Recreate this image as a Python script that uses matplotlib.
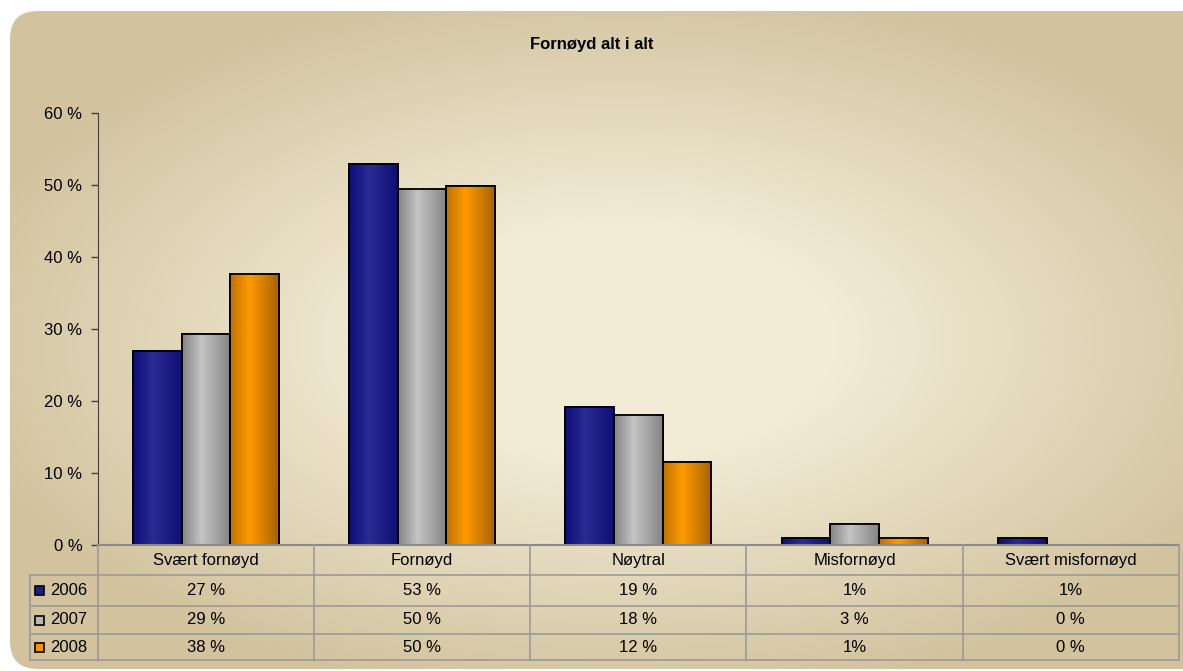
import numpy as np
import matplotlib.pyplot as plt
from matplotlib.colors import LinearSegmentedColormap
from matplotlib.patches import FancyBboxPatch, Rectangle

plt.rcParams["font.family"] = ["Liberation Sans", "DejaVu Sans"]

# Data
categories = ["Svært fornøyd", "Fornøyd", "Nøytral", "Misfornøyd", "Svært misfornøyd"]
years = ["2006", "2007", "2008"]
values_2006 = [26.9, 52.9, 19.2, 1.0, 1.0]
values_2007 = [29.3, 49.5, 18.1, 2.9, 0.0]
values_2008 = [37.7, 49.8, 11.5, 1.0, 0.0]
labels_2006 = ["27 %", "53 %", "19 %", "1%", "1%"]
labels_2007 = ["29 %", "50 %", "18 %", "3 %", "0 %"]
labels_2008 = ["38 %", "50 %", "12 %", "1%", "0 %"]
yticks = [0, 10, 20, 30, 40, 50, 60]
title = "Fornøyd alt i alt"

series = [values_2006, values_2007, values_2008]
table_rows = [labels_2006, labels_2007, labels_2008]
base_colors = ["#1f1f8c", "#b8b8b8", "#f59300"]
shades = [
    ["#0e0e78", "#2b2b94", "#0e0e74"],
    ["#858585", "#c4c4c4", "#848484"],
    ["#c07200", "#ff9a00", "#a86200"],
]

W, H = 1183, 671
fig = plt.figure(figsize=(W / 100, H / 100), dpi=100)
fig.patch.set_facecolor("white")

# background panel with soft radial gradient
bg = fig.add_axes([0, 0, 1, 1], zorder=-5)
bg.set_xlim(0, W)
bg.set_ylim(H, 0)
bg.axis("off")
yy, xx = np.mgrid[0:H, 0:W]
d = np.sqrt(((xx - 620) / 620.0) ** 2 + ((yy - 340) / 330.0) ** 2)
t = np.clip((d - 0.35) / 0.75, 0, 1)
light = np.array([242, 235, 214]) / 255.0
dark = np.array([210, 195, 158]) / 255.0
img = light[None, None, :] * (1 - t[..., None]) + dark[None, None, :] * t[..., None]
panel = FancyBboxPatch((10, 11), W + 20, H - 13, boxstyle="round,pad=0,rounding_size=28",
                       facecolor="none", edgecolor="none")
bg.add_patch(panel)
im = bg.imshow(img, extent=[0, W, H, 0], aspect="auto", interpolation="bilinear")
im.set_clip_path(panel)

bg.text(W / 2, 45, title, ha="center", va="center", fontsize=12, fontweight="bold")

# main chart
left = 97.7 / W
right = 1179 / W
bottom = 1 - 545 / H
top = 1 - 113 / H
ax = fig.add_axes([left, bottom, right - left, top - bottom])
ax.patch.set_alpha(0)

n = len(categories)
x = np.arange(n)
width = 0.225
for i, vals in enumerate(series):
    bars = ax.bar(x + (i - 1) * width, vals, width, color=base_colors[i],
                  edgecolor="black", linewidth=1.3, zorder=3)
    cmap = LinearSegmentedColormap.from_list("c%d" % i, [(0, shades[i][0]), (0.4, shades[i][1]), (1, shades[i][2])])
    grad = np.linspace(0, 1, 64)[None, :]
    for p in bars:
        h = p.get_height()
        if h <= 0:
            continue
        ax.imshow(grad, extent=[p.get_x(), p.get_x() + p.get_width(), 0, h],
                  aspect="auto", cmap=cmap, zorder=3.5, interpolation="bilinear")
        ax.add_patch(Rectangle((p.get_x(), 0), p.get_width(), h, facecolor="none",
                               edgecolor="black", linewidth=1.3, zorder=4))

ax.set_xlim(-0.5, n - 0.5)
ax.set_ylim(0, 60)
ax.set_yticks(yticks)
ax.set_yticklabels(["%d %%" % v for v in yticks], fontsize=12)
ax.tick_params(axis="y", direction="out", length=5, width=1, color="#404040", pad=6)
ax.set_xticks([])
for s in ["top", "right", "bottom"]:
    ax.spines[s].set_visible(False)
ax.spines["left"].set_color("#404040")

# data table under the chart: x in category units, y in figure pixels
row_edges = [545, 575, 606, 634, 660]
tab = fig.add_axes([left, 1 - 660 / H, right - left, (660 - 545) / H])
tab.patch.set_alpha(0)
tab.set_xlim(-0.5, n - 0.5)
tab.set_ylim(660, 545)
tab.axis("off")
gc = "#9a9a9a"
legend_x = -0.5 - (97.7 - 30) / (right - left) / W * n
tab.plot([-0.5, n - 0.5], [545, 545], color="#8a8a8a", lw=1.5, clip_on=False)
for r in row_edges[1:]:
    tab.plot([legend_x, n - 0.5], [r, r], color=gc, lw=1.2, clip_on=False)
for c in range(n + 1):
    tab.plot([c - 0.5, c - 0.5], [545, 660], color=gc, lw=1.2, clip_on=False)
tab.plot([legend_x, legend_x], [575, 660], color=gc, lw=1.2, clip_on=False)

row_mid = [(row_edges[k] + row_edges[k + 1]) / 2 for k in range(4)]
for j, cat in enumerate(categories):
    tab.text(j, row_mid[0], cat, ha="center", va="center", fontsize=12)
for r, row in enumerate(table_rows):
    for j, lab in enumerate(row):
        tab.text(j, row_mid[r + 1], lab, ha="center", va="center", fontsize=12)

# legend keys in the left column (pixel coords on background axes)
for r in range(3):
    ym = row_mid[r + 1]
    bg.add_patch(Rectangle((35, ym - 4.5), 9, 9, facecolor=base_colors[r],
                           edgecolor="black", linewidth=1.2, zorder=5))
    bg.text(50, ym, years[r], ha="left", va="center", fontsize=12, zorder=5)

fig.savefig("out.png", dpi=100)
